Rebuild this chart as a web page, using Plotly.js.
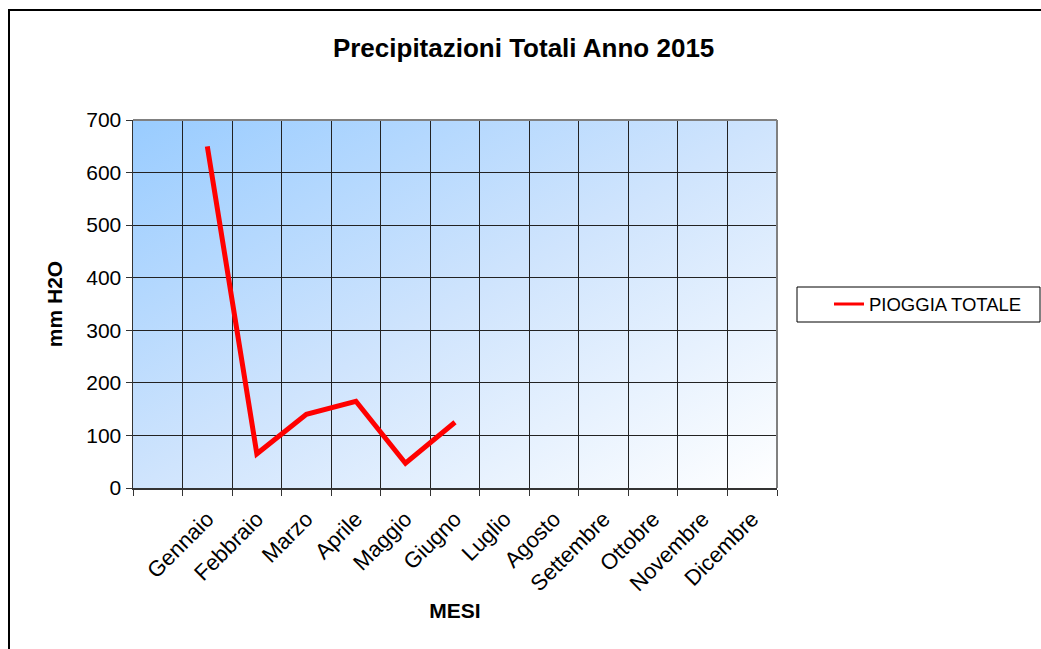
<!DOCTYPE html>
<html>
<head>
<meta charset="utf-8">
<script src="https://cdn.plot.ly/plotly-3.0.1.min.js"></script>
<style>
html,body{margin:0;padding:0;background:#fff;}
#chart{width:1041px;height:649px;}
</style>
</head>
<body>
<div id="chart"></div>
<script>
const categories = [' ', 'Gennaio', 'Febbraio', 'Marzo', 'Aprile', 'Maggio', 'Giugno', 'Luglio', 'Agosto', 'Settembre', 'Ottobre', 'Novembre', 'Dicembre'];
const months = ['Gennaio', 'Febbraio', 'Marzo', 'Aprile', 'Maggio', 'Giugno'];
const pioggia = [650, 65, 140, 165, 47, 125];
const seriesName = 'PIOGGIA TOTALE';
const yTicks = [0, 100, 200, 300, 400, 500, 600, 700];

const grad = '<svg xmlns="http://www.w3.org/2000/svg" width="644" height="368" preserveAspectRatio="none">' +
  '<defs><linearGradient id="g" x1="0" y1="0" x2="1" y2="1">' +
  '<stop offset="0" stop-color="#99CCFF"/><stop offset="0.5" stop-color="#CFE4FD"/><stop offset="1" stop-color="#FFFFFF"/>' +
  '</linearGradient></defs><rect width="644" height="368" fill="url(#g)"/></svg>';
const gradURI = 'data:image/svg+xml;charset=utf-8,' + encodeURIComponent(grad);

const L = 133, R = 777, T = 120, B = 488;
const W = R - L, H = B - T;
const px = x => (x - L) / W;
const py = y => (B - y) / H;
const FONT = 'Arial, "Liberation Sans", sans-serif';

const trace = {
  x: months,
  y: pioggia,
  type: 'scatter',
  mode: 'lines',
  name: seriesName,
  line: {color: '#FF0000', width: 5},
  showlegend: false
};
const legendTrace = {
  x: [null], y: [null],
  type: 'scatter', mode: 'lines',
  name: seriesName,
  line: {color: '#FF0000', width: 3},
  showlegend: true
};

const layout = {
  width: 1041, height: 649,
  margin: {l: L, r: 1041 - R, t: T, b: 649 - B, pad: 0},
  paper_bgcolor: '#FFFFFF',
  plot_bgcolor: 'rgba(0,0,0,0)',
  font: {family: FONT, color: '#000', size: 16},
  title: {
    text: '<b>Precipitazioni Totali Anno 2015</b>',
    font: {size: 26, family: FONT, color: '#000'},
    x: 0.503, xref: 'container', xanchor: 'center',
    y: 1 - 48 / 649, yref: 'container', yanchor: 'middle'
  },
  xaxis: {
    type: 'category',
    categoryorder: 'array',
    categoryarray: categories,
    range: [-0.5, 12.5],
    tickson: 'boundaries',
    ticks: 'outside', ticklen: 6, tickcolor: '#333', tickwidth: 1,
    tickangle: -45,
    ticklabelstandoff: 8,
    tickfont: {size: 22},
    showgrid: true, gridcolor: '#222', gridwidth: 1,
    showline: true, linecolor: '#333', linewidth: 1.5,
    zeroline: false,
    title: {text: '<b>MESI</b>', font: {size: 21}, standoff: 8},
    fixedrange: true
  },
  yaxis: {
    range: [0, 700],
    tickvals: yTicks,
    ticks: 'outside', ticklen: 6, tickcolor: '#333', tickwidth: 1,
    tickfont: {size: 21},
    showgrid: true, gridcolor: '#222', gridwidth: 1,
    showline: true, linecolor: '#333', linewidth: 1.5,
    zeroline: false,
    title: {text: '<b>mm H2O</b>', font: {size: 21}, standoff: 18},
    fixedrange: true
  },
  legend: {
    x: px(829), xanchor: 'left',
    y: py(304.5), yanchor: 'middle',
    bgcolor: 'rgba(0,0,0,0)', borderwidth: 0,
    itemwidth: 30,
    font: {size: 18.5, family: FONT}
  },
  images: [{
    source: gradURI, xref: 'paper', yref: 'paper',
    x: 0, y: 1, sizex: 1, sizey: 1, sizing: 'stretch',
    xanchor: 'left', yanchor: 'top', layer: 'below'
  }],
  shapes: [
    {type: 'rect', xref: 'paper', yref: 'paper', x0: px(9), x1: px(1100), y0: py(10), y1: py(700),
     line: {color: '#000', width: 2}, fillcolor: 'rgba(0,0,0,0)', layer: 'below'},
    {type: 'rect', xref: 'paper', yref: 'paper', x0: px(797), x1: px(1040), y0: py(287), y1: py(322),
     line: {color: '#000', width: 1}, fillcolor: '#FFFFFF', layer: 'below'},
    {type: 'line', xref: 'paper', yref: 'paper', x0: 0, x1: 1, y0: 1, y1: 1, line: {color: '#808080', width: 2}},
    {type: 'line', xref: 'paper', yref: 'paper', x0: 1, x1: 1, y0: 0, y1: 1, line: {color: '#808080', width: 2}}
  ]
};

Plotly.newPlot('chart', [trace, legendTrace], layout, {displayModeBar: false, staticPlot: true});
</script>
</body>
</html>
